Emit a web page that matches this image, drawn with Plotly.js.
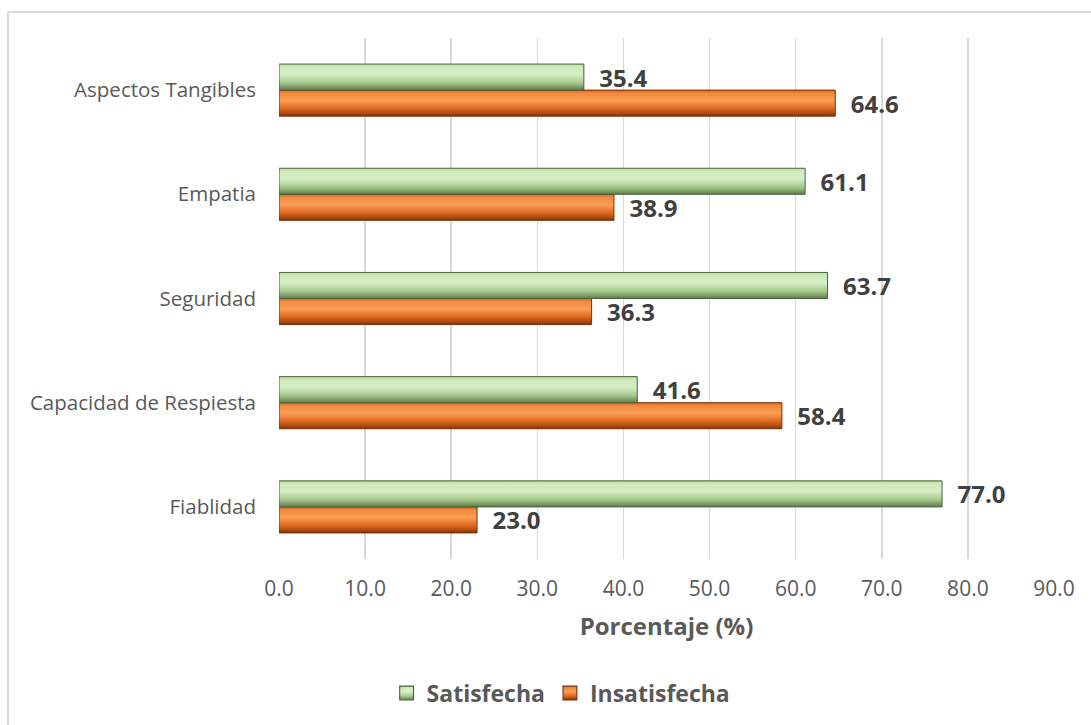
<!DOCTYPE html>
<html>
<head>
<meta charset="utf-8">
<script src="https://cdn.plot.ly/plotly-3.0.1.min.js"></script>
<style>
html,body{margin:0;padding:0;background:#fff;}
#chart{width:1091px;height:725px;}
</style>
</head>
<body>
<div id="chart"></div>
<script>
var categories = ["Fiablidad", "Capacidad de Respiesta", "Seguridad", "Empatia", "Aspectos Tangibles"];
var satisfecha = [77.0, 41.6, 63.7, 61.1, 35.4];
var insatisfecha = [23.0, 58.4, 36.3, 38.9, 64.6];
var xTicks = [0, 10, 20, 30, 40, 50, 60, 70, 80, 90];

var FONT = "'Open Sans', Lato, sans-serif";
var PAD = "\u00a0\u00a0";

var traceIns = {
  type: "bar", orientation: "h", name: "Insatisfecha",
  y: categories, x: insatisfecha,
  marker: {color: "#ec7a2c", line: {color: "#7a3208", width: 1}},
  text: insatisfecha.map(function(v){return PAD + v.toFixed(1);}),
  textposition: "outside", cliponaxis: false, constraintext: "none",
  textfont: {family: FONT, size: 24, color: "#404040", weight: "bold"},
  legendrank: 2, hoverinfo: "x+name"
};
var traceSat = {
  type: "bar", orientation: "h", name: "Satisfecha",
  y: categories, x: satisfecha,
  marker: {color: "#b3d99a", line: {color: "#4a6339", width: 1}},
  text: satisfecha.map(function(v){return PAD + v.toFixed(1);}),
  textposition: "outside", cliponaxis: false, constraintext: "none",
  textfont: {family: FONT, size: 24, color: "#404040", weight: "bold"},
  legendrank: 1, hoverinfo: "x+name"
};

var layout = {
  width: 1091, height: 725,
  margin: {l: 279, r: 37, t: 38, b: 165},
  paper_bgcolor: "#ffffff", plot_bgcolor: "#ffffff",
  font: {family: FONT, color: "#595959", size: 20},
  barmode: "group", bargap: 0.5, bargroupgap: 0,
  showlegend: true,
  legend: {orientation: "h", x: 0.364, xanchor: "center", y: -0.255, yanchor: "middle",
           font: {family: FONT, size: 23, color: "#595959", weight: "bold"},
           itemwidth: 30, traceorder: "normal"},
  xaxis: {
    range: [0, 90], tickvals: xTicks, tickformat: ".1f",
    showgrid: true, gridcolor: "#d9d9d9", gridwidth: 1.5,
    zeroline: false, showline: false, ticks: "",
    ticklabelstandoff: 15,
    tickfont: {family: FONT, size: 21, color: "#595959"},
    title: {text: "Porcentaje (%)", standoff: 17,
            font: {family: FONT, size: 24, color: "#595959", weight: "bold"}},
    fixedrange: true
  },
  yaxis: {
    type: "category", showgrid: false, zeroline: false, showline: false, ticks: "",
    ticklabelstandoff: 22,
    tickfont: {family: FONT, size: 20.5, color: "#595959"},
    fixedrange: true
  },
  shapes: [{
    type: "rect", xref: "paper", yref: "paper",
    x0: (8 - 279) / 775, x1: (1100 - 279) / 775,
    y0: (560 - 740) / 522, y1: 1 + (38 - 12) / 522,
    line: {color: "#d9d9d9", width: 2}, fillcolor: "rgba(0,0,0,0)", layer: "below"
  }]
};

var gradStops = {
  "Satisfecha": [[0, "#b9dba0"], [0.12, "#cfeabc"], [0.4, "#d6efc6"], [0.7, "#a9cc8f"], [0.88, "#7f9e69"], [1, "#5d7a4b"]],
  "Insatisfecha": [[0, "#d9661c"], [0.12, "#f08a3c"], [0.4, "#fa9f58"], [0.7, "#e06a20"], [0.88, "#b04c10"], [1, "#7e340a"]]
};

function applyGradients(gd) {
  var svg = gd.querySelector("svg.main-svg");
  var NS = "http://www.w3.org/2000/svg";
  var defs = svg.querySelector("defs");
  var names = Object.keys(gradStops);
  names.forEach(function(name, i) {
    var lg = document.createElementNS(NS, "linearGradient");
    lg.setAttribute("id", "grad" + i);
    lg.setAttribute("x1", "0"); lg.setAttribute("y1", "0");
    lg.setAttribute("x2", "0"); lg.setAttribute("y2", "1");
    gradStops[name].forEach(function(s) {
      var st = document.createElementNS(NS, "stop");
      st.setAttribute("offset", s[0]);
      st.setAttribute("stop-color", s[1]);
      lg.appendChild(st);
    });
    defs.appendChild(lg);
  });
  gd.querySelectorAll(".barlayer .trace").forEach(function(t) {
    var d = t.__data__; var nm = d && d[0] && d[0].trace && d[0].trace.name;
    var idx = names.indexOf(nm);
    if (idx < 0) return;
    t.querySelectorAll("path").forEach(function(p) { p.style.fill = "url(#grad" + idx + ")"; });
  });
  gd.querySelectorAll(".legend .traces").forEach(function(t) {
    var d = t.__data__; var nm = d && d[0] && d[0].trace && d[0].trace.name;
    var idx = names.indexOf(nm);
    if (idx < 0) return;
    t.querySelectorAll(".legendpoints path").forEach(function(p) {
      p.style.fill = "url(#grad" + idx + ")";
      p.setAttribute("transform", (p.getAttribute("transform") || "") + " scale(1.15)");
    });
  });
}

Plotly.newPlot("chart", [traceIns, traceSat], layout, {displayModeBar: false, staticPlot: true})
  .then(applyGradients);
</script>
</body>
</html>
